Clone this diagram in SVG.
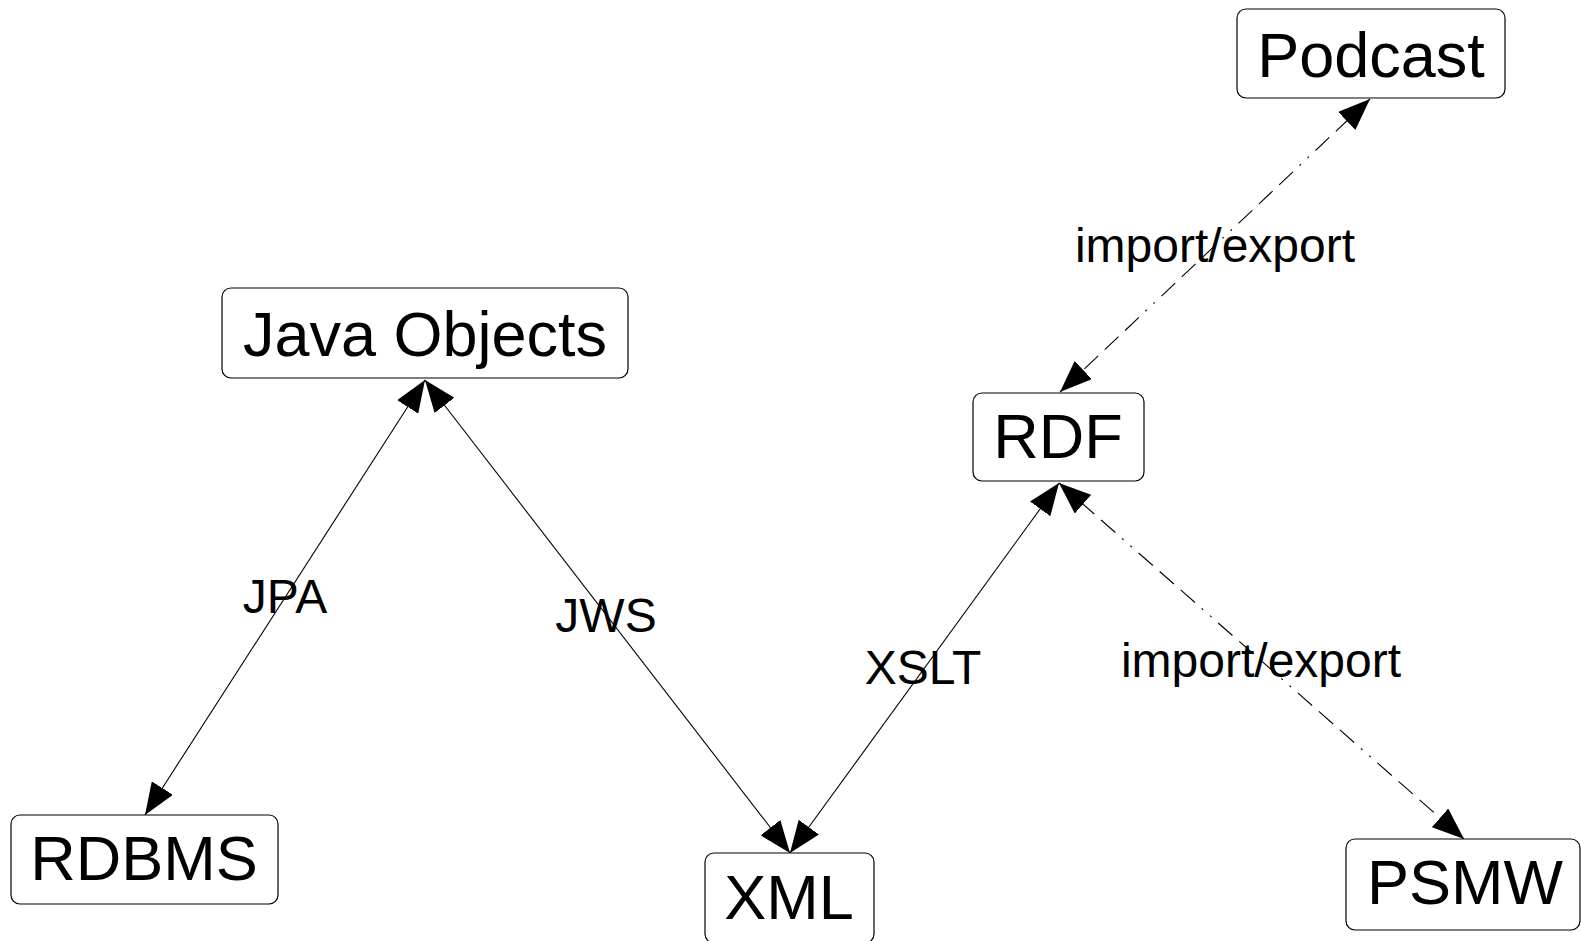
<svg xmlns="http://www.w3.org/2000/svg" width="1581" height="941" viewBox="0 0 1581 941">
<style>
.node rect{fill:#fff;stroke:#000;stroke-width:1.2}
.node text{font-family:"Liberation Sans",Arial,sans-serif;font-size:63px;fill:#000;text-anchor:middle}
.edge{fill:none;stroke:#000;stroke-width:1.1;marker-start:url(#ah);marker-end:url(#ah)}
.dash{stroke-dasharray:19 9 19 9 19 9 2 9 2 9}
.lbl{font-family:"Liberation Sans",Arial,sans-serif;font-size:48px;fill:#000;text-anchor:middle}
</style>
<defs>
<marker id="ah" viewBox="0 0 32 25" refX="32" refY="12.5" markerWidth="32" markerHeight="25" markerUnits="userSpaceOnUse" orient="auto-start-reverse">
<path d="M0,0 L32,12.5 L0,25 z" fill="#000"/>
</marker>
</defs>
<rect width="1581" height="941" fill="#fff"/>
<g id="connectors">
<line class="edge" x1="425" y1="380" x2="145" y2="815"/>
<line class="edge" x1="425" y1="380" x2="790" y2="853"/>
<line class="edge" x1="1059" y1="483" x2="790" y2="853"/>
<line class="edge dash" x1="1370" y1="99" x2="1060" y2="392"/>
<line class="edge dash" x1="1059" y1="483" x2="1464" y2="839"/>
<text class="lbl" x="285" y="613">JPA</text>
<text class="lbl" x="606" y="632">JWS</text>
<text class="lbl" x="923" y="684">XSLT</text>
<text class="lbl" x="1215" y="262">import/export</text>
<text class="lbl" x="1261" y="677">import/export</text>
</g>
<g id="podcast" class="node"><rect x="1237" y="9" width="268" height="89" rx="9"/><text x="1371" y="77">Podcast</text></g>
<g id="java-objects" class="node"><rect x="222" y="288" width="406" height="90" rx="9"/><text x="425" y="356">Java Objects</text></g>
<g id="rdf" class="node"><rect x="973" y="393" width="171" height="88" rx="9"/><text x="1058" y="458">RDF</text></g>
<g id="rdbms" class="node"><rect x="11" y="815" width="267" height="89" rx="9"/><text x="144" y="880">RDBMS</text></g>
<g id="xml" class="node"><rect x="705" y="853" width="169" height="90" rx="9"/><text x="789" y="919">XML</text></g>
<g id="psmw" class="node"><rect x="1346" y="839" width="234" height="91" rx="9"/><text x="1465" y="904">PSMW</text></g>
</svg>
